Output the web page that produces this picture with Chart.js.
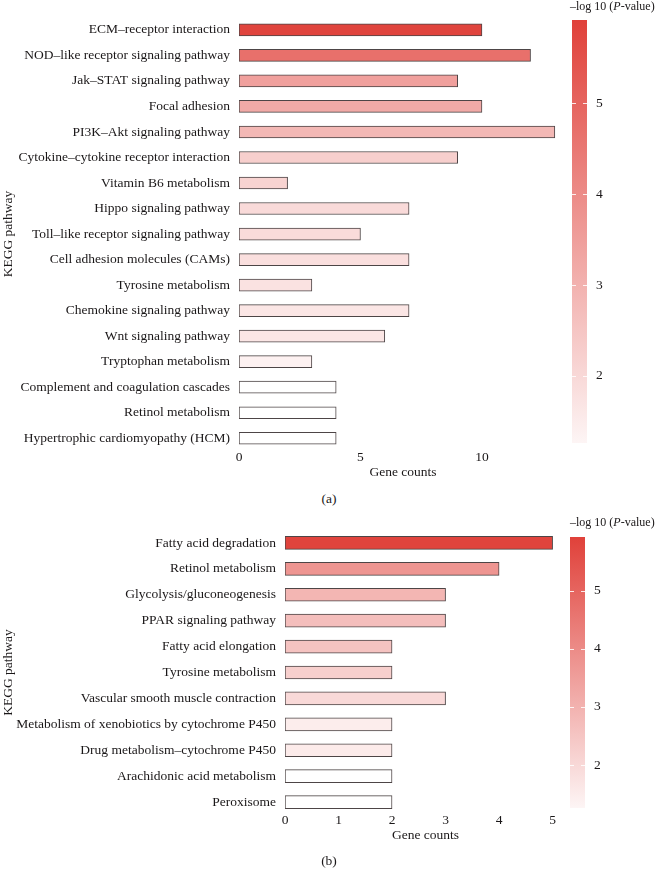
<!DOCTYPE html>
<html lang="en">
<head>
  <meta charset="UTF-8" />
  <title>KEGG pathway enrichment</title>
  <script src="https://cdn.jsdelivr.net/npm/chart.js"></script>
  <style>
    body {
      margin: 0;
      background: #fff;
      font-family: 'Liberation Serif', serif;
      color: #1a1718;
    }
    #page {
      position: relative;
      width: 662px;
      height: 879px;
      overflow: hidden;
    }
    canvas {
      position: absolute;
    }
    .cbtitle {
      position: absolute;
      font-size: 12px;
      white-space: nowrap;
      line-height: 14px;
    }
    .panel {
      position: absolute;
      font-size: 13.5px;
      width: 40px;
      margin-left: -20px;
      text-align: center;
      line-height: 16px;
    }
  </style>
</head>
<body>
  <div id="page">
    <canvas id="chartA" width="570" height="490" style="left:0;top:0"></canvas>
    <canvas id="barA" width="102" height="460" style="left:560px;top:0"></canvas>
    <div class="cbtitle" style="left:570px;top:-1px">&ndash;log 10 (<i>P</i>-value)</div>
    <div class="panel" style="left:329px;top:491px">(a)</div>

    <canvas id="chartB" width="570" height="355" style="left:0;top:500px"></canvas>
    <canvas id="barB" width="102" height="330" style="left:558px;top:500px"></canvas>
    <div class="cbtitle" style="left:570px;top:515px">&ndash;log 10 (<i>P</i>-value)</div>
    <div class="panel" style="left:329px;top:853px">(b)</div>
  </div>

  <script>
    // panel (a)
    const pathwaysA = [
      "ECM–receptor interaction",
      "NOD–like receptor signaling pathway",
      "Jak–STAT signaling pathway",
      "Focal adhesion",
      "PI3K–Akt signaling pathway",
      "Cytokine–cytokine receptor interaction",
      "Vitamin B6 metabolism",
      "Hippo signaling pathway",
      "Toll–like receptor signaling pathway",
      "Cell adhesion molecules (CAMs)",
      "Tyrosine metabolism",
      "Chemokine signaling pathway",
      "Wnt signaling pathway",
      "Tryptophan metabolism",
      "Complement and coagulation cascades",
      "Retinol metabolism",
      "Hypertrophic cardiomyopathy (HCM)"
    ];
    const countsA = [10, 12, 9, 10, 13, 9, 2, 7, 5, 7, 3, 7, 6, 3, 4, 4, 4];
    const logPA = [5.85, 4.7, 3.46, 3.2, 2.84, 2.24, 2.14, 1.96, 1.93, 1.83, 1.75, 1.65, 1.65, 1.36, 1.0, 1.0, 1.0];
    const xTicksA = [0, 5, 10];

    // panel (b)
    const pathwaysB = [
      "Fatty acid degradation",
      "Retinol metabolism",
      "Glycolysis/gluconeogenesis",
      "PPAR signaling pathway",
      "Fatty acid elongation",
      "Tyrosine metabolism",
      "Vascular smooth muscle contraction",
      "Metabolism of xenobiotics by cytochrome P450",
      "Drug metabolism–cytochrome P450",
      "Arachidonic acid metabolism",
      "Peroxisome"
    ];
    const countsB = [5, 4, 3, 3, 2, 2, 3, 2, 2, 2, 2];
    const logPB = [5.85, 3.74, 2.9, 2.68, 2.55, 2.24, 1.98, 1.47, 1.52, 1.0, 1.0];
    const xTicksB = [0, 1, 2, 3, 4, 5];

    // colour bar range and labels
    const cbarRange = [1.26, 5.92];
    const cbarTicks = [2, 3, 4, 5];

    const serif = "'Liberation Serif', serif";
    const ink = '#1a1718';
    const lowCol = [255, 255, 255];
    const highCol = [224, 65, 58];
    const lowVal = 1.0;

    function colorFor(v) {
      let t = (v - lowVal) / (cbarRange[1] - lowVal);
      t = Math.max(0, Math.min(1, t));
      const c = lowCol.map((l, i) => Math.round(l + (highCol[i] - l) * t));
      return `rgb(${c[0]}, ${c[1]}, ${c[2]})`;
    }

    // short white marks at the colour bar ticks, on both edges
    const tickMarks = {
      id: 'tickMarks',
      afterDatasetsDraw(chart) {
        const { ctx, chartArea, scales } = chart;
        ctx.save();
        ctx.strokeStyle = 'rgba(255,255,255,0.85)';
        ctx.lineWidth = 1;
        cbarTicks.forEach(v => {
          const y = Math.round(scales.y.getPixelForValue(v)) + 0.5;
          ctx.beginPath();
          ctx.moveTo(chartArea.left, y);
          ctx.lineTo(chartArea.left + 4, y);
          ctx.moveTo(chartArea.right - 4, y);
          ctx.lineTo(chartArea.right, y);
          ctx.stroke();
        });
        ctx.restore();
      }
    };

    function barChart(id, labels, counts, logP, xTicks, cfg) {
      const ctx = document.getElementById(id).getContext('2d');
      return new Chart(ctx, {
        type: 'bar',
        data: {
          labels: labels,
          datasets: [{
            data: counts,
            backgroundColor: logP.map(colorFor),
            borderColor: '#4d4546',
            borderWidth: 1,
            borderSkipped: false,
            barThickness: cfg.thick
          }]
        },
        options: {
          indexAxis: 'y',
          responsive: false,
          animation: false,
          devicePixelRatio: 1,
          layout: { padding: { top: cfg.top, right: cfg.right, left: 0, bottom: 0 } },
          plugins: { legend: { display: false }, tooltip: { enabled: false } },
          scales: {
            x: {
              min: 0,
              max: cfg.max,
              grid: { display: false, drawTicks: false },
              border: { display: false },
              afterBuildTicks: s => { s.ticks = xTicks.map(v => ({ value: v })); },
              afterFit: s => { s.height = cfg.xh; },
              ticks: {
                color: ink,
                padding: cfg.tickPad,
                maxRotation: 0,
                font: { family: serif, size: 13.5 }
              },
              title: {
                display: true,
                text: 'Gene counts',
                color: ink,
                padding: { top: 0, bottom: cfg.titlePad },
                font: { family: serif, size: 13.5 }
              }
            },
            y: {
              grid: { display: false, drawTicks: false },
              border: { display: false },
              afterFit: s => { s.width = cfg.yw; },
              ticks: {
                color: ink,
                padding: 9,
                autoSkip: false,
                font: { family: serif, size: 13.5 }
              },
              title: {
                display: true,
                text: 'KEGG pathway',
                color: ink,
                padding: { top: 0, bottom: 0 },
                font: { family: serif, size: 13.5 }
              }
            }
          }
        }
      });
    }

    function colorBar(id, top, bottom) {
      const ctx = document.getElementById(id).getContext('2d');
      return new Chart(ctx, {
        type: 'bar',
        data: {
          labels: [''],
          datasets: [{
            data: [cbarRange],
            barPercentage: 1,
            categoryPercentage: 1,
            borderWidth: 0,
            backgroundColor: c => {
              const area = c.chart.chartArea;
              if (!area) return colorFor(cbarRange[1]);
              const g = c.chart.ctx.createLinearGradient(0, area.bottom, 0, area.top);
              g.addColorStop(0, colorFor(cbarRange[0]));
              g.addColorStop(1, colorFor(cbarRange[1]));
              return g;
            }
          }]
        },
        options: {
          responsive: false,
          animation: false,
          devicePixelRatio: 1,
          layout: { padding: { top: top, bottom: bottom, left: 12, right: 0 } },
          plugins: { legend: { display: false }, tooltip: { enabled: false } },
          scales: {
            x: { display: false },
            y: {
              position: 'right',
              min: cbarRange[0],
              max: cbarRange[1],
              afterBuildTicks: s => { s.ticks = cbarTicks.map(v => ({ value: v })); },
              afterFit: s => { s.width = 75; },
              grid: { display: false, drawTicks: false },
              border: { display: false },
              ticks: {
                color: ink,
                padding: 9,
                font: { family: serif, size: 13.5 }
              }
            }
          }
        },
        plugins: [tickMarks]
      });
    }

    barChart('chartA', pathwaysA, countsA, logPA, xTicksA,
      { thick: 12, top: 13, right: 3, max: 13.5, xh: 39, yw: 239, tickPad: -2, titlePad: 9 });
    colorBar('barA', 20, 16);

    barChart('chartB', pathwaysB, countsB, logPB, xTicksB,
      { thick: 13, top: 30, right: 4, max: 5.25, xh: 40, yw: 285, tickPad: -3, titlePad: 11 });
    colorBar('barB', 37, 22);
  </script>
</body>
</html>
